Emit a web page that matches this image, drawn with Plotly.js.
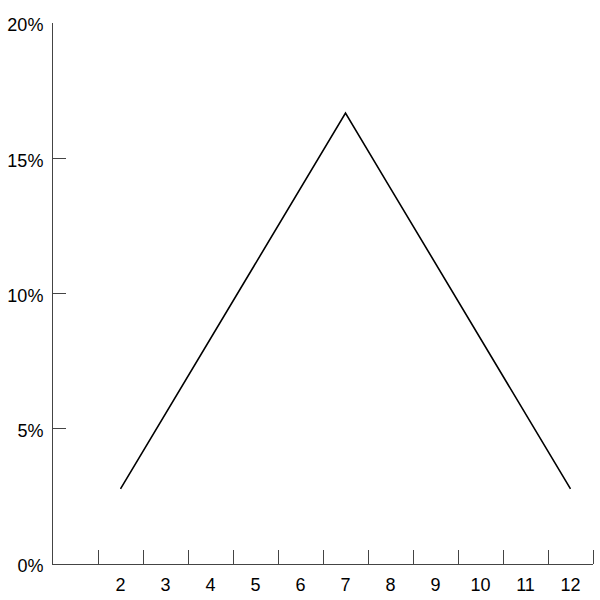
<!DOCTYPE html>
<html><head><meta charset="utf-8">
<script src="https://cdn.plot.ly/plotly-3.0.1.min.js"></script>
<style>html,body{margin:0;padding:0;background:#fff}</style>
</head><body>
<div id="chart" style="width:600px;height:600px"></div>
<script>
const sums = [2,3,4,5,6,7,8,9,10,11,12];
const probs = [1/36,2/36,3/36,4/36,5/36,6/36,5/36,4/36,3/36,2/36,1/36];
const xTickLabels = ['2','3','4','5','6','7','8','9','10','11','12'];
const xBoundaries = [1.5,2.5,3.5,4.5,5.5,6.5,7.5,8.5,9.5,10.5,11.5,12.5];
const yTickVals = [0,0.05,0.10,0.15,0.20];
const yTickText = ['0%','5%','10%','15%','20%'];

const font = {family:'"Liberation Sans", Arial, sans-serif', size:18, color:'#000'};
Plotly.newPlot('chart', [{
  x: sums, y: probs, type:'scatter', mode:'lines',
  line:{color:'#000', width:1.6}, hoverinfo:'none'
}], {
  width:600, height:600,
  margin:{l:53, r:7, t:23, b:36, pad:0},
  paper_bgcolor:'#fff', plot_bgcolor:'#fff',
  showlegend:false, font: font,
  xaxis:{range:[0.5,12.5], showgrid:false, zeroline:false,
    showline:true, linecolor:'#444', linewidth:1,
    tickmode:'array', tickvals:sums, ticktext:xTickLabels, ticks:'',
    ticklabelstandoff:4,
    minor:{tickmode:'array', tickvals:xBoundaries, ticks:'inside', ticklen:14, tickcolor:'#444', tickwidth:1, showgrid:false},
    tickfont:font, fixedrange:true},
  yaxis:{range:[0,0.20], showgrid:false, zeroline:false,
    showline:true, linecolor:'#444', linewidth:1,
    tickmode:'array', tickvals:yTickVals, ticktext:yTickText,
    ticks:'inside', ticklen:13, tickcolor:'#444', tickwidth:1,
    ticklabelstandoff:5, ticklabelshift:2,
    tickfont:font, fixedrange:true}
}, {displayModeBar:false, staticPlot:true});
</script>
</body></html>
